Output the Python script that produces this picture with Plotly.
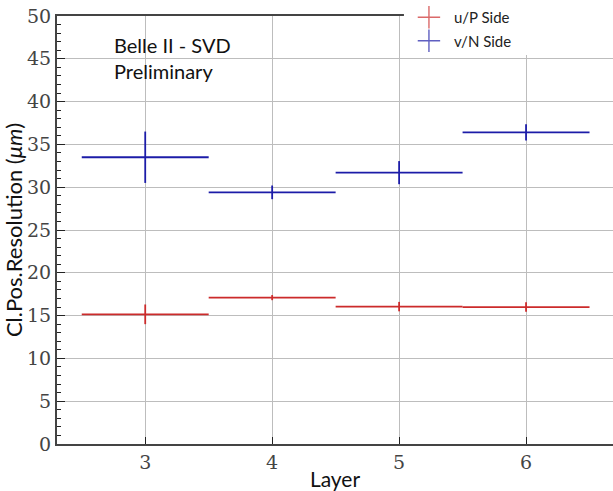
import plotly.graph_objects as go

layers = [3, 4, 5, 6]
half_width = [0.5, 0.5, 0.5, 0.5]
u_res = [15.15, 17.1, 16.05, 16.0]
u_err = [1.15, 0.3, 0.55, 0.55]
v_res = [33.5, 29.4, 31.7, 36.4]
v_err = [3.0, 0.8, 1.35, 0.95]
y_ticks = [0, 5, 10, 15, 20, 25, 30, 35, 40, 45, 50]

RED = "#cc2b2b"
BLUE = "#1c1ca8"
SERIF = "DejaVu Serif"
SANS = "Lato"

fig = go.Figure()
for name, vals, errs, col in [("u/P Side", u_res, u_err, RED), ("v/N Side", v_res, v_err, BLUE)]:
    fig.add_trace(go.Scatter(
        x=layers, y=vals, mode="markers", showlegend=False, hoverinfo="skip",
        marker=dict(size=1, color=col, opacity=0),
        error_x=dict(type="data", array=half_width, width=0, thickness=1.8, color=col),
        error_y=dict(type="data", array=errs, width=0, thickness=1.8, color=col),
    ))
    fig.add_trace(go.Scatter(
        x=[None], y=[None], mode="markers", name=name, legendgroup=name,
        marker=dict(symbol="cross-thin", size=16, color=col, opacity=0.7,
                    line=dict(width=1.4, color=col)),
    ))

fig.add_annotation(
    text="Belle II - SVD<br>Preliminary", xref="paper", yref="paper",
    x=0.099, y=0.902, xanchor="left", yanchor="middle", align="left",
    showarrow=False, font=dict(family=SANS, size=20, color="#111"),
)

fig.add_shape(type="rect", xref="paper", yref="paper", x0=0.624, x1=1.0, y0=0.909, y1=1.04,
              fillcolor="white", line=dict(width=0), layer="above")

fig.update_layout(
    width=613, height=491,
    font=dict(family=SERIF),
    margin=dict(l=57, r=0, t=16, b=47, autoexpand=False),
    plot_bgcolor="white", paper_bgcolor="white",
    legend=dict(x=0.624, y=1.035, xanchor="left", yanchor="top",
                bgcolor="rgba(0,0,0,0)", font=dict(family=SANS, size=15, color="#222"),
                itemwidth=40, tracegroupgap=1),
    xaxis=dict(
        range=[2.305, 6.685], tickvals=layers, ticktext=[str(l) for l in layers],
        automargin=False,
        showgrid=True, gridcolor="#bdbdbd", gridwidth=1,
        showline=True, linecolor="#444", linewidth=2, mirror=True,
        ticks="inside", ticklen=7, tickcolor="#222",
        tickfont=dict(family=SERIF, size=19, color="#444"),
        title=dict(text="Layer", font=dict(family=SANS, size=21, color="#111"), standoff=2),
        zeroline=False,
    ),
    yaxis=dict(
        range=[0, 50], tickvals=y_ticks, automargin=False,
        showgrid=True, gridcolor="#bdbdbd", gridwidth=1,
        showline=True, linecolor="#444", linewidth=2,
        ticks="inside", ticklen=8, tickcolor="#222",
        minor=dict(dtick=1, ticks="inside", ticklen=4, tickcolor="#222", showgrid=False),
        tickfont=dict(family=SERIF, size=19, color="#444"),
        title=dict(text="Cl.Pos.Resolution (<i>μm</i>)", font=dict(family=SANS, size=22, color="#111"), standoff=0),
        zeroline=False,
    ),
)

fig.write_html(
    "out.html",
    config={"displayModeBar": False},
    post_script="document.body.style.margin='0';document.body.style.overflow='hidden';",
)
